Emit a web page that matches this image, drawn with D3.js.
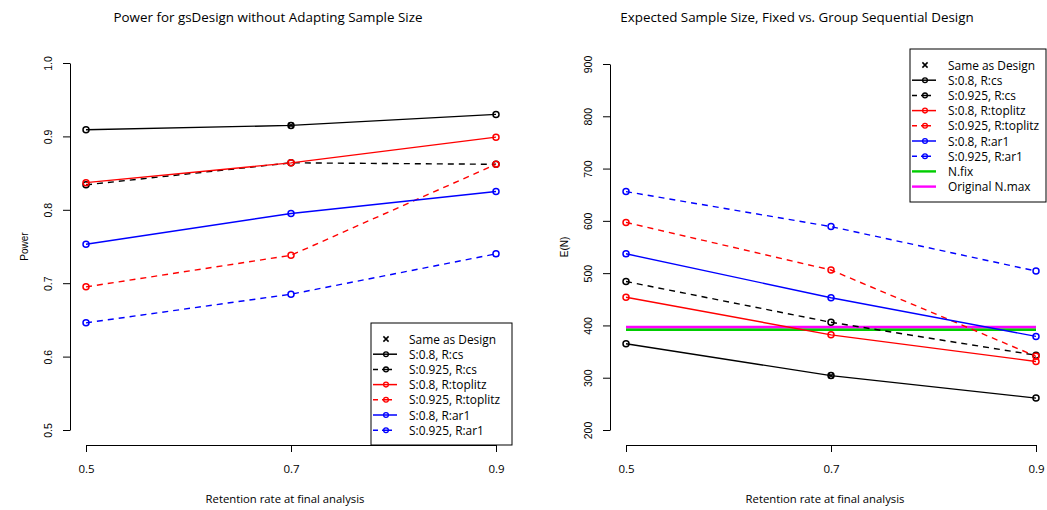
<!DOCTYPE html>
<html>
<head>
<meta charset="utf-8">
<script src="https://cdn.jsdelivr.net/npm/d3@7"></script>
<style>
  html, body { margin: 0; padding: 0; background: #fff; }
  svg { display: block; }
  text { fill: #000; }
</style>
</head>
<body>
<svg id="chart" width="1047" height="510"></svg>
<script>
// ---------------- DATA ----------------
const retention = [0.5, 0.7, 0.9];
const retentionTicks = [0.5, 0.7, 0.9];
const powerTicks = [0.5, 0.6, 0.7, 0.8, 0.9, 1.0];
const enTicks = [200, 300, 400, 500, 600, 700, 800, 900];

const seriesLabels = ["S:0.8, R:cs", "S:0.925, R:cs", "S:0.8, R:toplitz",
                      "S:0.925, R:toplitz", "S:0.8, R:ar1", "S:0.925, R:ar1"];

const power_S08_cs        = [0.909, 0.915, 0.930];
const power_S0925_cs      = [0.834, 0.864, 0.862];
const power_S08_toplitz   = [0.837, 0.864, 0.899];
const power_S0925_toplitz = [0.695, 0.738, 0.862];
const power_S08_ar1       = [0.753, 0.795, 0.825];
const power_S0925_ar1     = [0.646, 0.685, 0.740];

const en_S08_cs        = [365, 304, 261];
const en_S0925_cs      = [484, 406, 343];
const en_S08_toplitz   = [454, 382, 331];
const en_S0925_toplitz = [597, 506, 341];
const en_S08_ar1       = [537, 453, 379];
const en_S0925_ar1     = [656, 589, 504];

const nFix = 392;
const nMaxOriginal = 397;

const sameAsDesignX = [0.7];
const sameAsDesignPower = [0.915];
const sameAsDesignEN = [304];

// ---------------- STYLE ----------------
const seriesColors = ["#000000", "#000000", "#ff0000", "#ff0000", "#0000ff", "#0000ff"];
const seriesDashed = [false, true, false, true, false, true];
const DASH = "6,5";
const FONT_H = "'Open Sans', sans-serif";
const FONT_V = "'Liberation Sans', Arial, sans-serif";

const svg = d3.select("#chart");

function drawPanel(opts) {
  const { x, y, yTicks, yFmt, title, ylab, series, markX, markY, legendItems, legendBox } = opts;
  const g = svg.append("g");

  // title
  const [x0, x1] = x.range();
  g.append("text").attr("x", (x0 + x1) / 2 + opts.titleShift).attr("y", 22)
    .attr("text-anchor", "middle").style("font-family", FONT_H).style("font-size", "13.4px")
    .text(title);

  // x axis
  const yAxisPos = opts.xAxisY;
  const xa = g.append("g").attr("transform", `translate(0,${yAxisPos})`)
    .call(d3.axisBottom(x).tickValues(retentionTicks).tickFormat(d3.format(".1f")).tickSize(7).tickSizeOuter(0));
  xa.selectAll("text").attr("y", 0).attr("dy", 28).style("font-family", FONT_H).style("font-size", "11.5px");
  xa.selectAll("path,line").attr("stroke", "#000").attr("stroke-width", 1);
  g.append("text").attr("x", (x0 + x1) / 2 - 6).attr("y", 503).attr("text-anchor", "middle")
    .style("font-family", FONT_H).style("font-size", "11.3px").text("Retention rate at final analysis");

  // y axis
  const axisX = opts.yAxisX;
  const ya = g.append("g").attr("transform", `translate(${axisX},0)`)
    .call(d3.axisLeft(y).tickValues(yTicks).tickFormat(yFmt).tickSize(7).tickSizeOuter(0));
  ya.selectAll("path,line").attr("stroke", "#000").attr("stroke-width", 1);
  ya.selectAll(".tick text")
    .attr("dy", null)
    .attr("transform", "rotate(-90)")
    .attr("x", 0).attr("y", -18)
    .attr("text-anchor", "middle")
    .style("font-family", FONT_V).style("font-size", "10.5px");
  const [yb, yt] = y.range();
  g.append("text").attr("transform", `translate(${axisX - 42},${(yb + yt) / 2}) rotate(-90)`)
    .attr("text-anchor", "middle").style("font-family", FONT_V).style("font-size", "10px").text(ylab);

  // reference lines
  (opts.hlines || []).forEach(h => {
    g.append("line").attr("x1", x(retention[0])).attr("x2", x(retention[retention.length - 1]))
      .attr("y1", y(h.v)).attr("y2", y(h.v)).attr("stroke", h.color).attr("stroke-width", 2.6);
  });

  // series
  const line = d3.line().x((d, i) => x(retention[i])).y(d => y(d));
  series.forEach((vals, k) => {
    g.append("path").attr("d", line(vals)).attr("fill", "none")
      .attr("stroke", seriesColors[k]).attr("stroke-width", 1.4)
      .attr("stroke-dasharray", seriesDashed[k] ? DASH : null);
    g.selectAll(null).data(vals).enter().append("circle")
      .attr("cx", (d, i) => x(retention[i])).attr("cy", d => y(d)).attr("r", 3)
      .attr("fill", "none").attr("stroke", seriesColors[k]).attr("stroke-width", 1.5);
  });

  // same as design marks
  markX.forEach((mx, i) => {
    const cx = x(mx), cy = y(markY[i]), s = 2.6;
    g.append("path").attr("d", `M${cx - s},${cy - s}L${cx + s},${cy + s}M${cx - s},${cy + s}L${cx + s},${cy - s}`)
      .attr("stroke", "#000").attr("stroke-width", 1.3);
  });

  // legend
  const lb = legendBox;
  g.append("rect").attr("x", lb.x).attr("y", lb.y).attr("width", lb.w).attr("height", lb.h)
    .attr("fill", "#fff").attr("stroke", "#000").attr("stroke-width", 1);
  legendItems.forEach((it, i) => {
    const cy = lb.y + 16 + i * 15.2;
    const sx = lb.x + 15;
    if (it.type === "x") {
      const s = 2.6;
      g.append("path").attr("d", `M${sx - s},${cy - s}L${sx + s},${cy + s}M${sx - s},${cy + s}L${sx + s},${cy - s}`)
        .attr("stroke", "#000").attr("stroke-width", 1.5);
    } else if (it.type === "series") {
      g.append("line").attr("x1", sx - 13).attr("x2", sx + 11).attr("y1", cy).attr("y2", cy)
        .attr("stroke", it.color).attr("stroke-width", 1.5)
        .attr("stroke-dasharray", it.dashed ? "5,4,10,20" : null);
      g.append("circle").attr("cx", sx).attr("cy", cy).attr("r", 2.4)
        .attr("fill", "none").attr("stroke", it.color).attr("stroke-width", 1.3);
    } else {
      g.append("line").attr("x1", sx - 13).attr("x2", sx + 11).attr("y1", cy).attr("y2", cy)
        .attr("stroke", it.color).attr("stroke-width", 2.4);
    }
    g.append("text").attr("x", lb.x + 38).attr("y", cy + 4.5)
      .style("font-family", FONT_H).style("font-size", "11.9px").text(it.label);
  });
}

const baseItems = [{ type: "x", label: "Same as Design" }].concat(
  seriesLabels.map((l, k) => ({ type: "series", label: l, color: seriesColors[k], dashed: seriesDashed[k] })));

// left panel
drawPanel({
  x: d3.scaleLinear().domain([0.5, 0.9]).range([86, 496]),
  y: d3.scaleLinear().domain([0.5, 1.0]).range([430, 63]),
  yTicks: powerTicks, yFmt: d3.format(".1f"),
  title: "Power for gsDesign without Adapting Sample Size", titleShift: -23,
  ylab: "Power",
  xAxisY: 445, yAxisX: 70,
  series: [power_S08_cs, power_S0925_cs, power_S08_toplitz, power_S0925_toplitz, power_S08_ar1, power_S0925_ar1],
  markX: sameAsDesignX, markY: sameAsDesignPower,
  legendItems: baseItems,
  legendBox: { x: 371, y: 323, w: 141, h: 122 }
});

// right panel
drawPanel({
  x: d3.scaleLinear().domain([0.5, 0.9]).range([626, 1036]),
  y: d3.scaleLinear().domain([200, 900]).range([430, 64]),
  yTicks: enTicks, yFmt: d3.format("d"),
  title: "Expected Sample Size, Fixed vs. Group Sequential Design", titleShift: -34,
  ylab: "E(N)",
  xAxisY: 445, yAxisX: 610,
  series: [en_S08_cs, en_S0925_cs, en_S08_toplitz, en_S0925_toplitz, en_S08_ar1, en_S0925_ar1],
  markX: sameAsDesignX, markY: sameAsDesignEN,
  hlines: [{ v: nFix, color: "#00cd00" }, { v: nMaxOriginal, color: "#ff00ff" }],
  legendItems: baseItems.concat([
    { type: "plain", label: "N.fix", color: "#00cd00" },
    { type: "plain", label: "Original N.max", color: "#ff00ff" }
  ]),
  legendBox: { x: 910, y: 49, w: 136, h: 153 }
});
</script>
</body>
</html>
